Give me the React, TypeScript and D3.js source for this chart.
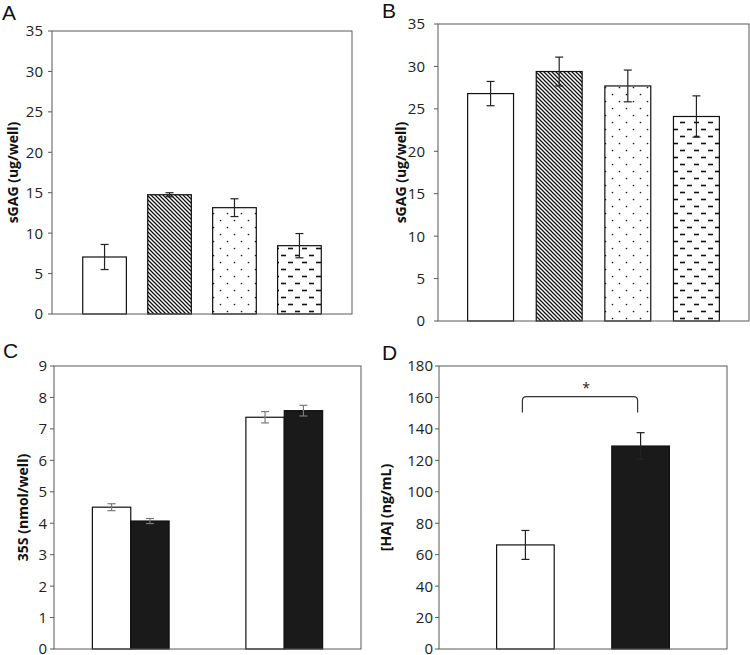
import React from "react";
import * as d3 from "d3";

// ---- Data ----
const catsAB = ["c1", "c2", "c3", "c4"];
const patternsAB = ["none", "hatch", "dots", "dashes"];
const valuesA = [7.05, 14.75, 13.15, 8.45];
const errorsA = [1.55, 0.25, 1.1, 1.5];
const valuesB = [26.8, 29.4, 27.7, 24.1];
const errorsB = [1.43, 1.7, 1.87, 2.43];

const groupsC = ["g1", "g2"];
const seriesC = ["white", "black"];
const valuesCWhite = [4.51, 7.37];
const valuesCBlack = [4.07, 7.58];
const errorsCWhite = [0.11, 0.18];
const errorsCBlack = [0.08, 0.17];

const catsD = ["white", "black"];
const valuesD = [66.2, 129.1];
const errorsD = [9.2, 8.5];

const ticksAB = [0, 5, 10, 15, 20, 25, 30, 35];
const ticksC = [0, 1, 2, 3, 4, 5, 6, 7, 8, 9];
const ticksD = [0, 20, 40, 60, 80, 100, 120, 140, 160, 180];

const FONT = "'Open Sans', Lato, sans-serif";
const FRAME = "#595959";

type Box = { left: number; right: number; top: number; bottom: number };

function Frame({ box, y, ticks, gap, title, titleX, letter, letterX, letterY }: any) {
  const midY = (box.top + box.bottom) / 2;
  return (
    <g>
      <rect x={box.left} y={box.top} width={box.right - box.left} height={box.bottom - box.top}
        fill="none" stroke={FRAME} strokeWidth={1} />
      {ticks.map((t: number) => (
        <g key={t}>
          <line x1={box.left - 4} x2={box.left} y1={y(t)} y2={y(t)} stroke={FRAME} />
          <text x={box.left - gap} y={y(t)} dy="0.36em" textAnchor="end"
            fontFamily={FONT} fontSize={15} fill="#222">{t}</text>
        </g>
      ))}
      <text transform={`translate(${titleX},${midY}) rotate(-90)`} textAnchor="middle" dy="0.36em"
        fontFamily={FONT} fontWeight="bold" fontSize={14} fill="#111">{title}</text>
      <text x={letterX} y={letterY} fontFamily="'Liberation Sans', Arial, sans-serif" fontSize={21} fill="#111">{letter}</text>
    </g>
  );
}

function ErrorBar({ x, yTop, yBot, color, cap }: any) {
  return (
    <g stroke={color} strokeWidth={1.2}>
      <line x1={x} x2={x} y1={yTop} y2={yBot} />
      <line x1={x - cap} x2={x + cap} y1={yTop} y2={yTop} />
      <line x1={x - cap} x2={x + cap} y1={yBot} y2={yBot} />
    </g>
  );
}

function PanelAB({ box, values, errors, inner, outer, title, titleX, gap, letter, letterX, letterY }: any) {
  const x = d3.scaleBand<string>().domain(catsAB).range([box.left, box.right]).paddingInner(inner).paddingOuter(outer);
  const y = d3.scaleLinear().domain([0, 35]).range([box.bottom, box.top]);
  return (
    <g>
      {catsAB.map((c, i) => {
        const pat = patternsAB[i];
        const fill = pat === "none" ? "#fff" : `url(#${pat})`;
        const bx = x(c)!;
        return (
          <g key={c}>
            <rect x={bx} y={y(values[i])} width={x.bandwidth()} height={y(0) - y(values[i])}
              fill={fill} stroke="#111" strokeWidth={1.2} />
            <ErrorBar x={bx + x.bandwidth() / 2} yTop={y(values[i] + errors[i])} yBot={y(values[i] - errors[i])}
              color="#222" cap={4} />
          </g>
        );
      })}
      <Frame box={box} y={y} ticks={ticksAB} gap={gap} title={title} titleX={titleX}
        letter={letter} letterX={letterX} letterY={letterY} />
    </g>
  );
}

function PanelC() {
  const box: Box = { left: 54, right: 361, top: 366, bottom: 649 };
  const x0 = d3.scaleBand<string>().domain(groupsC).range([box.left, box.right]).paddingInner(0.5).paddingOuter(0.25);
  const x1 = d3.scaleBand<string>().domain(seriesC).range([0, x0.bandwidth()]);
  const y = d3.scaleLinear().domain([0, 9]).range([box.bottom, box.top]);
  const vals: Record<string, number[]> = { white: valuesCWhite, black: valuesCBlack };
  const errs: Record<string, number[]> = { white: errorsCWhite, black: errorsCBlack };
  return (
    <g>
      {groupsC.map((g, gi) => (
        <g key={g}>
          {seriesC.map((s) => {
            const v = vals[s][gi];
            const e = errs[s][gi];
            const bx = x0(g)! + x1(s)!;
            return (
              <g key={s}>
                <rect x={bx} y={y(v)} width={x1.bandwidth()} height={y(0) - y(v)}
                  fill={s === "white" ? "#fff" : "#1a1a1a"} stroke="#111" strokeWidth={1.2} />
                <ErrorBar x={bx + x1.bandwidth() / 2} yTop={y(v + e)} yBot={y(v - e)} color="#7a7a7a" cap={4} />
              </g>
            );
          })}
        </g>
      ))}
      <Frame box={box} y={y} ticks={ticksC} gap={7} title="35S (nmol/well)" titleX={23}
        letter="C" letterX={3} letterY={358} />
    </g>
  );
}

function PanelD() {
  const box: Box = { left: 439, right: 727, top: 366, bottom: 649 };
  const x = d3.scaleBand<string>().domain(catsD).range([box.left, box.right]).paddingInner(0.5).paddingOuter(0.5);
  const y = d3.scaleLinear().domain([0, 180]).range([box.bottom, box.top]);
  const cx0 = x("white")! + x.bandwidth() / 2;
  const cx1 = x("black")! + x.bandwidth() / 2;
  const xl = cx0 - 3, xr = cx1 - 3;
  const yb = y(150.5), yt = y(160.5), r = 4;
  const bracket = `M${xl},${yb} L${xl},${yt + r} Q${xl},${yt} ${xl + r},${yt} L${xr - r},${yt} Q${xr},${yt} ${xr},${yt + r} L${xr},${yb}`;
  return (
    <g>
      {catsD.map((c, i) => (
        <g key={c}>
          <rect x={x(c)} y={y(valuesD[i])} width={x.bandwidth()} height={y(0) - y(valuesD[i])}
            fill={c === "white" ? "#fff" : "#1a1a1a"} stroke="#111" strokeWidth={1.2} />
          <ErrorBar x={x(c)! + x.bandwidth() / 2} yTop={y(valuesD[i] + errorsD[i])} yBot={y(valuesD[i] - errorsD[i])}
            color="#222" cap={4} />
        </g>
      ))}
      <path d={bracket} fill="none" stroke="#333" strokeWidth={1.2} />
      <text x={(xl + xr) / 2 + 6} y={393} textAnchor="middle" fontFamily={FONT} fontSize={14} fill="#222">*</text>
      <Frame box={box} y={y} ticks={ticksD} gap={6} title="[HA] (ng/mL)" titleX={386}
        letter="D" letterX={382} letterY={360} />
    </g>
  );
}

export default function App() {
  return (
    <svg width={750} height={655} style={{ position: "absolute", left: 0, top: 0, background: "#fff" }}>
      <defs>
        <pattern id="hatch" patternUnits="userSpaceOnUse" width={4} height={4}>
          <rect width={4} height={4} fill="#fff" />
          <path d="M-1,-1 L5,5 M-1,3 L1,5 M3,-1 L5,1" stroke="#111" strokeWidth={1.3} />
        </pattern>
        <pattern id="dots" patternUnits="userSpaceOnUse" width={14} height={14}>
          <rect width={14} height={14} fill="#fff" />
          <circle cx={3.5} cy={3.5} r={0.85} fill="#222" />
          <circle cx={10.5} cy={10.5} r={0.85} fill="#222" />
        </pattern>
        <pattern id="dashes" patternUnits="userSpaceOnUse" width={14} height={14}>
          <rect width={14} height={14} fill="#fff" />
          <line x1={1} x2={6} y1={3.5} y2={3.5} stroke="#111" strokeWidth={1.6} />
          <line x1={8} x2={13} y1={10.5} y2={10.5} stroke="#111" strokeWidth={1.6} />
        </pattern>
      </defs>
      <rect width={750} height={655} fill="#fff" />
      <PanelAB box={{ left: 52, right: 352, top: 31, bottom: 314 }} values={valuesA} errors={errorsA}
        inner={0.328} outer={0.473} title="sGAG (ug/well)" titleX={13} gap={9}
        letter="A" letterX={2} letterY={20} />
      <PanelAB box={{ left: 438, right: 749, top: 24, bottom: 321 }} values={valuesB} errors={errorsB}
        inner={0.331} outer={0.432} title="sGAG (ug/well)" titleX={401} gap={13}
        letter="B" letterX={382} letterY={18} />
      <PanelC />
      <PanelD />
    </svg>
  );
}
